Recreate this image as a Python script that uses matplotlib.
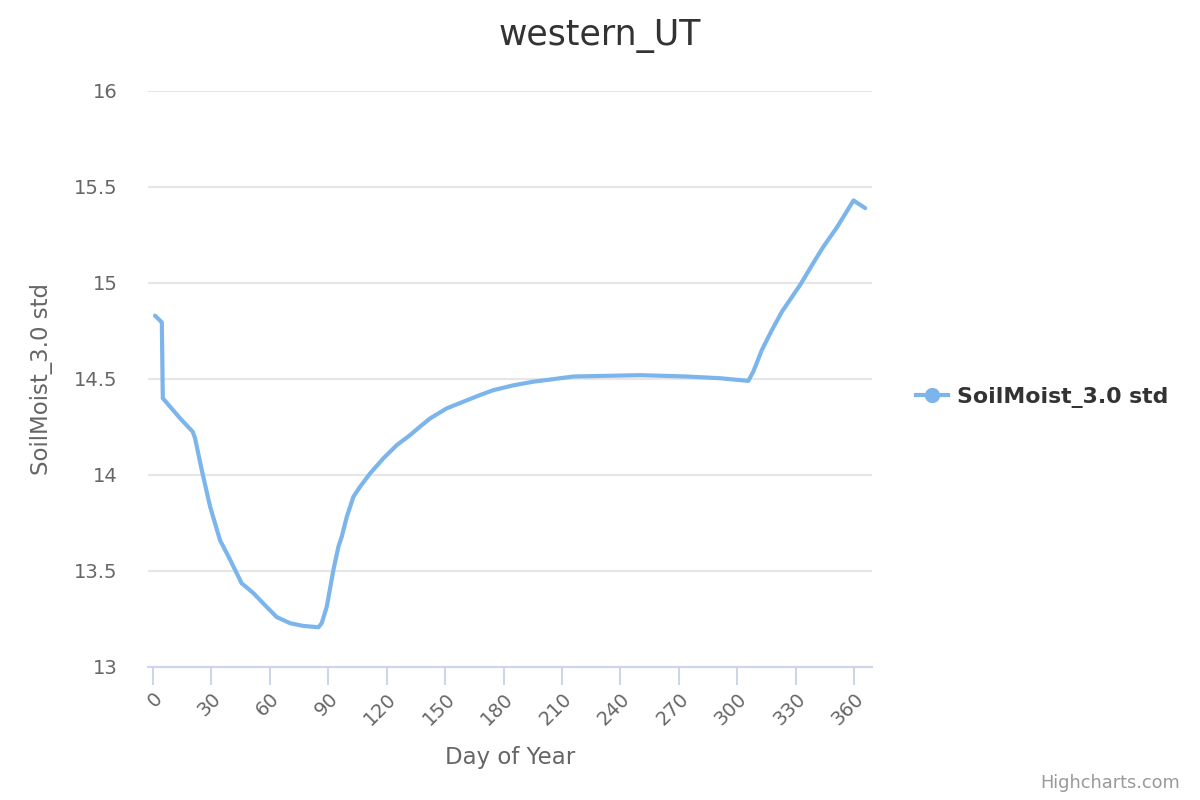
import matplotlib
matplotlib.use("Agg")
import matplotlib.pyplot as plt
from matplotlib.lines import Line2D

# Data
days = [1, 4.5, 5, 13.9, 20.4, 21.6, 25, 29.3, 34.4, 39.5, 45.5, 51.5, 56.7,
        63.5, 70.4, 77.2, 84.9, 86.6, 89.2, 92.6, 95.2, 96.9, 99.5, 102.9,
        106.3, 111.5, 118.3, 125.2, 132, 137.1, 142.3, 150.8, 159.4, 168,
        174.8, 185, 195.3, 215.9, 250.1, 274.1, 291.2, 305.7, 308.3, 312.6,
        317.8, 322.9, 332.3, 340, 344.3, 351.2, 359.7, 365.7]
values = [14.83, 14.795, 14.40, 14.295, 14.225, 14.19, 14.026, 13.835, 13.66,
          13.56, 13.436, 13.385, 13.33, 13.26, 13.228, 13.214, 13.207, 13.228,
          13.314, 13.505, 13.627, 13.679, 13.783, 13.887, 13.939, 14.009,
          14.087, 14.156, 14.208, 14.252, 14.295, 14.347, 14.382, 14.417,
          14.442, 14.467, 14.486, 14.513, 14.52, 14.513, 14.504, 14.49,
          14.54, 14.65, 14.755, 14.85, 14.99, 15.12, 15.19, 15.29, 15.43,
          15.39]
series_name = "SoilMoist_3.0 std"
title = "western_UT"
x_label = "Day of Year"
y_label = "SoilMoist_3.0 std"
x_ticks = list(range(0, 361, 30))
y_ticks = [13, 13.5, 14, 14.5, 15, 15.5, 16]
y_tick_labels = ["13", "13.5", "14", "14.5", "15", "15.5", "16"]

color = "#7cb5ec"
plt.rcParams["font.family"] = ["DejaVu Sans"]

fig = plt.figure(figsize=(12, 8), dpi=100)
ax = fig.add_axes([148 / 1200, 1 - 667 / 800, (872 - 148) / 1200, (667 - 91) / 800])

ax.plot(days, values, color=color, lw=3, solid_capstyle="round",
        solid_joinstyle="round", zorder=3)

ax.set_xlim(-2.6, 369.2)
ax.set_ylim(13, 16)
ax.set_xticks(x_ticks)
ax.set_xticklabels([str(t) for t in x_ticks], rotation=45, ha="right",
                   rotation_mode="anchor", fontsize=14, color="#666666")
ax.set_yticks(y_ticks)
ax.set_yticklabels(y_tick_labels, fontsize=14, color="#666666")

ax.grid(axis="y", color="#e6e6e6", lw=1.5)
ax.set_axisbelow(True)
for s in ["top", "right", "left"]:
    ax.spines[s].set_visible(False)
ax.spines["bottom"].set_color("#ccd6eb")
ax.spines["bottom"].set_linewidth(1.5)
ax.tick_params(axis="x", length=13, width=1.5, color="#ccd6eb", pad=3)
ax.tick_params(axis="y", length=0, pad=22)

ax.set_xlabel(x_label, fontsize=16.5, color="#666666", labelpad=12)
ax.set_ylabel(y_label, fontsize=16.5, color="#666666", labelpad=15)

fig.text(0.5, 1 - 36 / 800, title, ha="center", va="center", fontsize=25,
         color="#333333")
fig.text(1180 / 1200, 1 - 783 / 800, "Highcharts.com", ha="right", va="center",
         fontsize=12.8, color="#999999")

handle = Line2D([0], [0], color=color, lw=3, marker="o", markersize=10)
fig.legend([handle], [series_name], loc="center left",
           bbox_to_anchor=(896 / 1200, 1 - 397 / 800), frameon=False,
           prop={"weight": "bold", "size": 15.8}, labelcolor="#333333",
           handlelength=1.45, handletextpad=0.45)

fig.savefig("out.png", dpi=100)
